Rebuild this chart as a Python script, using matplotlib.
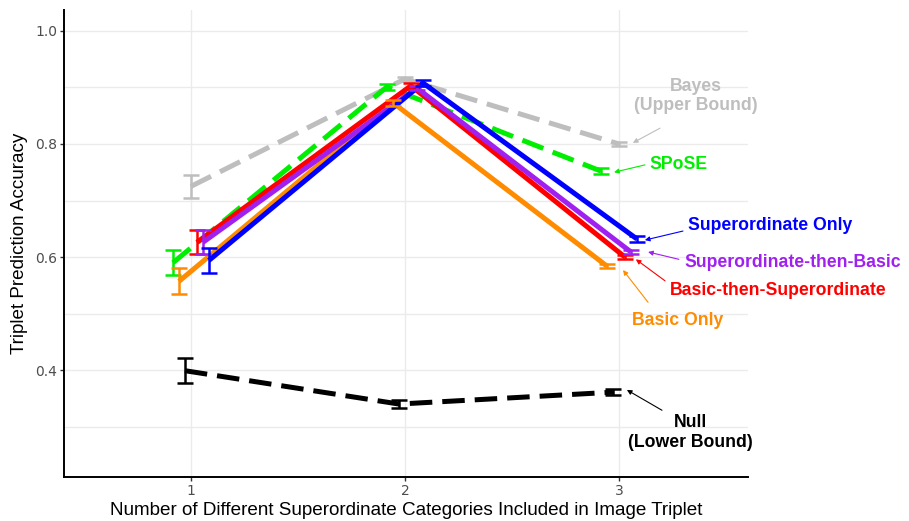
import numpy as np
import matplotlib
matplotlib.use("Agg")
import matplotlib.pyplot as plt

# ── data ──────────────────────────────────────────────────────────────────────
conditions = [1, 2, 3]

models = ["SPoSE", "Basic Only", "Null", "Bayes",
          "Basic-then-Superordinate", "Superordinate-then-Basic",
          "Superordinate Only"]

spose_acc  = [0.590, 0.901, 0.752]
basic_acc  = [0.557, 0.873, 0.584]
null_acc   = [0.399, 0.340, 0.361]
bayes_acc  = [0.725, 0.915, 0.800]
bts_acc    = [0.626, 0.903, 0.600]
stb_acc    = [0.626, 0.899, 0.609]
super_acc  = [0.594, 0.908, 0.632]

spose_err  = [0.022, 0.005, 0.005]
basic_err  = [0.023, 0.005, 0.004]
null_err   = [0.022, 0.007, 0.005]
bayes_err  = [0.020, 0.004, 0.004]
bts_err    = [0.021, 0.005, 0.004]
stb_err    = [0.021, 0.004, 0.004]
super_err  = [0.022, 0.005, 0.005]

accs = [spose_acc, basic_acc, null_acc, bayes_acc, bts_acc, stb_acc, super_acc]
errs = [spose_err, basic_err, null_err, bayes_err, bts_err, stb_err, super_err]

colors = {"SPoSE": "#00EE00", "Basic Only": "#FF8C00", "Null": "black",
          "Bayes": "#BEBEBE", "Basic-then-Superordinate": "#FF0000",
          "Superordinate-then-Basic": "#A020F0", "Superordinate Only": "#0000FF"}
dashed = {"SPoSE", "Null", "Bayes"}
draw_order = ["Null", "Bayes", "SPoSE", "Basic Only", "Basic-then-Superordinate",
              "Superordinate-then-Basic", "Superordinate Only"]

# ── figure ────────────────────────────────────────────────────────────────────
fig = plt.figure(figsize=(9.09, 5.21), dpi=100)
ax = fig.add_axes([0.0704, 0.0845, 0.7525, 0.8963])

dodge = 0.028
x = np.array(conditions, dtype=float)
for name in draw_order:
    i = models.index(name)
    xs = x + (i - 3) * dodge
    c = colors[name]
    ls = (0, (4.5, 2)) if name in dashed else "-"
    ax.plot(xs, accs[i], color=c, lw=3.6, linestyle=ls, zorder=3,
            solid_capstyle="butt", dash_capstyle="butt")
    ax.errorbar(xs, accs[i], yerr=errs[i], fmt="none", ecolor=c,
                elinewidth=1.8, capsize=5.5, capthick=1.8, zorder=4)

ax.set_xlim(0.407, 3.603)
ax.set_ylim(0.211, 1.037)
ax.set_xticks(conditions)
ax.set_yticks([0.4, 0.6, 0.8, 1.0])
ax.set_yticks([0.3, 0.5, 0.7, 0.9], minor=True)
ax.set_yticklabels(["0.4", "0.6", "0.8", "1.0"])
ax.tick_params(axis="y", which="minor", length=0)
ax.tick_params(which="major", length=3, width=1, color="#333333",
               labelcolor="#4D4D4D", labelsize=10, pad=2)
ax.grid(True, which="both", axis="y", color="#EBEBEB", lw=1.0, zorder=0)
ax.grid(True, which="major", axis="x", color="#EBEBEB", lw=1.0, zorder=0)
ax.set_axisbelow(True)
for s in ["top", "right"]:
    ax.spines[s].set_visible(False)
for s in ["left", "bottom"]:
    ax.spines[s].set_linewidth(1.4)

ax.set_xlabel("Number of Different Superordinate Categories Included in Image Triplet",
              fontsize=13.6, labelpad=3, family="Liberation Sans")
ax.set_ylabel("Triplet Prediction Accuracy", fontsize=13.6, labelpad=5,
              family="Liberation Sans")

# ── annotations ───────────────────────────────────────────────────────────────
labels = [
    # text, text xy, arrow tail, arrow head, ha, colour key
    ("Bayes\n(Upper Bound)", (3.360, 0.885), (3.192, 0.828), (3.065, 0.802), "center", "Bayes"),
    ("SPoSE", (3.276, 0.763), (3.121, 0.763), (2.977, 0.750), "center", "SPoSE"),
    ("Superordinate Only", (3.322, 0.655), (3.299, 0.646), (3.121, 0.630), "left", "Superordinate Only"),
    ("Superordinate-then-Basic", (3.304, 0.591), (3.280, 0.596), (3.136, 0.609), "left", "Superordinate-then-Basic"),
    ("Basic-then-Superordinate", (3.238, 0.540), (3.215, 0.558), (3.079, 0.596), "left", "Basic-then-Superordinate"),
    ("Basic Only", (3.061, 0.488), (3.136, 0.520), (3.019, 0.577), "left", "Basic Only"),
    ("Null\n(Lower Bound)", (3.332, 0.290), (3.201, 0.329), (3.037, 0.365), "center", "Null"),
]
for text, txy, tail, head, ha, key in labels:
    c = colors[key]
    ax.text(txy[0], txy[1], text, ha=ha, va="center", color=c, fontsize=12.7,
            fontweight="bold", family="Liberation Sans", linespacing=1.2,
            clip_on=False)
    ax.annotate("", xy=head, xytext=tail, annotation_clip=False,
                arrowprops=dict(arrowstyle="-|>", color=c, lw=0.8,
                                mutation_scale=7, shrinkA=0, shrinkB=0))

fig.savefig("out.png", dpi=100)
